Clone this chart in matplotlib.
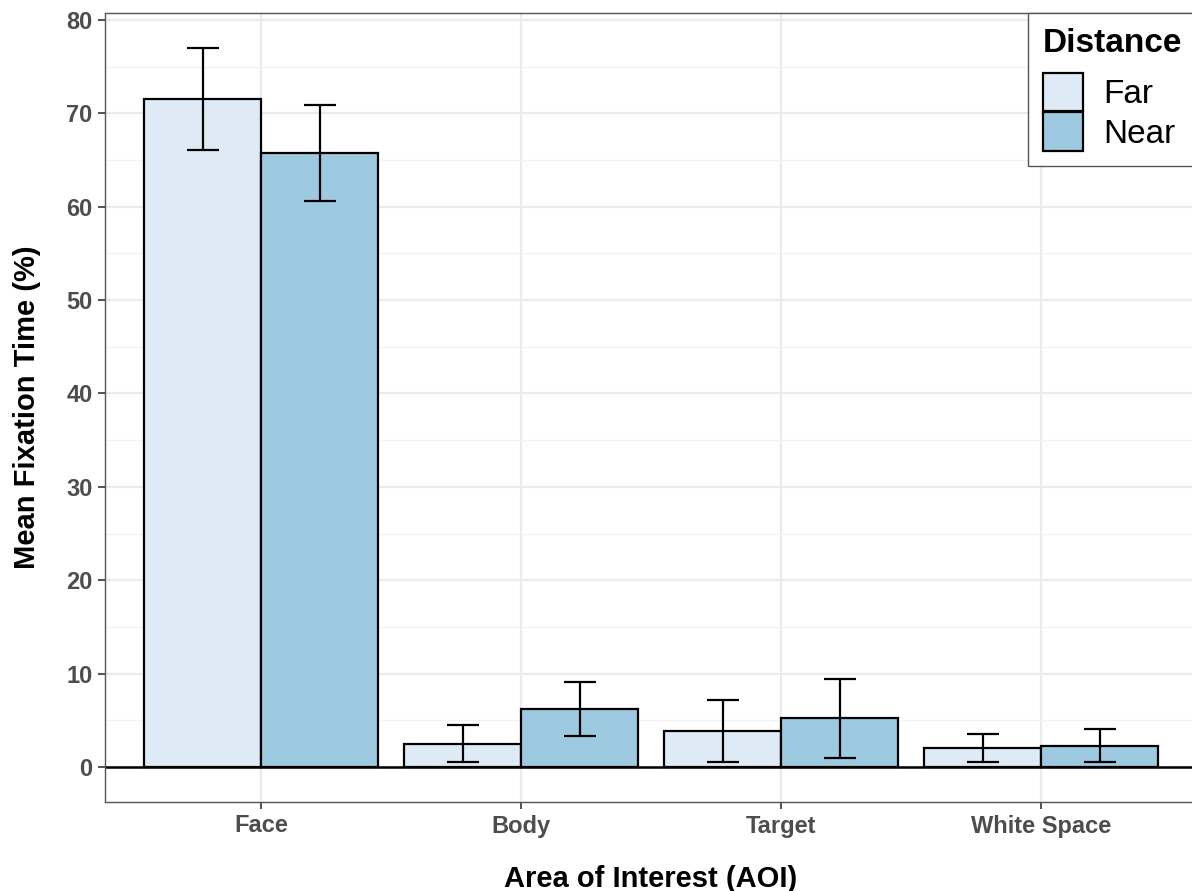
import matplotlib.pyplot as plt
from matplotlib.patches import Patch
import numpy as np

plt.rcParams['font.family'] = ['Liberation Sans', 'DejaVu Sans']

# mean fixation time (%) per area of interest, with error bar half-widths
aois = ['Face', 'Body', 'Target', 'White Space']
far_mean = [71.5, 2.5, 3.85, 2.05]
far_err = [5.45, 2.0, 3.35, 1.5]
near_mean = [65.75, 6.2, 5.2, 2.3]
near_err = [5.15, 2.85, 4.2, 1.8]

far_color = '#deebf7'
near_color = '#9ecae1'

fig = plt.figure(figsize=(11.92, 8.91), dpi=100)
# panel runs slightly past the right edge of the canvas
ax = fig.add_axes([105 / 1192, 89 / 891, 1092 / 1192, 789 / 891])

x = np.arange(1, len(aois) + 1)
w = 0.45

# grid
ax.set_yticks(np.arange(0, 81, 10))
ax.set_yticks(np.arange(5, 81, 10), minor=True)
ax.grid(which='major', axis='both', color='#ebebeb', lw=1.6, zorder=0)
ax.grid(which='minor', axis='y', color='#f2f2f2', lw=1.0, zorder=0)
ax.set_axisbelow(True)

ax.axhline(0, color='black', lw=1.8, zorder=1)

ax.bar(x - w / 2, far_mean, width=w, color=far_color, edgecolor='black', lw=1.6, zorder=2)
ax.bar(x + w / 2, near_mean, width=w, color=near_color, edgecolor='black', lw=1.6, zorder=2)
ax.errorbar(x - w / 2, far_mean, yerr=far_err, fmt='none', ecolor='black',
            elinewidth=1.6, capsize=11.5, capthick=1.6, zorder=3)
ax.errorbar(x + w / 2, near_mean, yerr=near_err, fmt='none', ecolor='black',
            elinewidth=1.6, capsize=11.5, capthick=1.6, zorder=3)

ax.set_xlim(0.4, 4.6)
ax.set_ylim(-3.75, 80.75)
ax.set_xticks(x)
ax.set_xticklabels(aois)

for s in ax.spines.values():
    s.set_color('#555555')
    s.set_linewidth(1.0)

ax.tick_params(axis='both', which='major', length=5, width=1.2, color='#333333',
               labelsize=17, labelcolor='#4d4d4d', pad=4)
ax.tick_params(axis='y', which='minor', length=0)
for lab in ax.get_xticklabels() + ax.get_yticklabels():
    lab.set_fontweight('bold')

ax.set_xlabel('Area of Interest (AOI)', fontsize=21, fontweight='bold', labelpad=20)
ax.set_ylabel('Mean Fixation Time (%)', fontsize=21, fontweight='bold', labelpad=18)

handles = [Patch(facecolor=far_color, edgecolor='black', lw=1.6, label='Far'),
           Patch(facecolor=near_color, edgecolor='black', lw=1.6, label='Near')]
leg = fig.legend(handles=handles, title='Distance', loc='upper left',
                 bbox_to_anchor=(1028 / 1192, 1 - 13 / 891), bbox_transform=fig.transFigure,
                 fontsize=24, title_fontproperties={'weight': 'bold', 'size': 24},
                 handlelength=1.2, handleheight=1.4, handletextpad=0.6,
                 labelspacing=0.03, borderpad=0.45, borderaxespad=0,
                 fancybox=False, framealpha=1, edgecolor='#555555',
                 alignment='left')
leg.get_frame().set_linewidth(1.0)
# extra room between the legend title and its entries
leg._legend_box.sep = 10

fig.savefig('out.png', dpi=100)
